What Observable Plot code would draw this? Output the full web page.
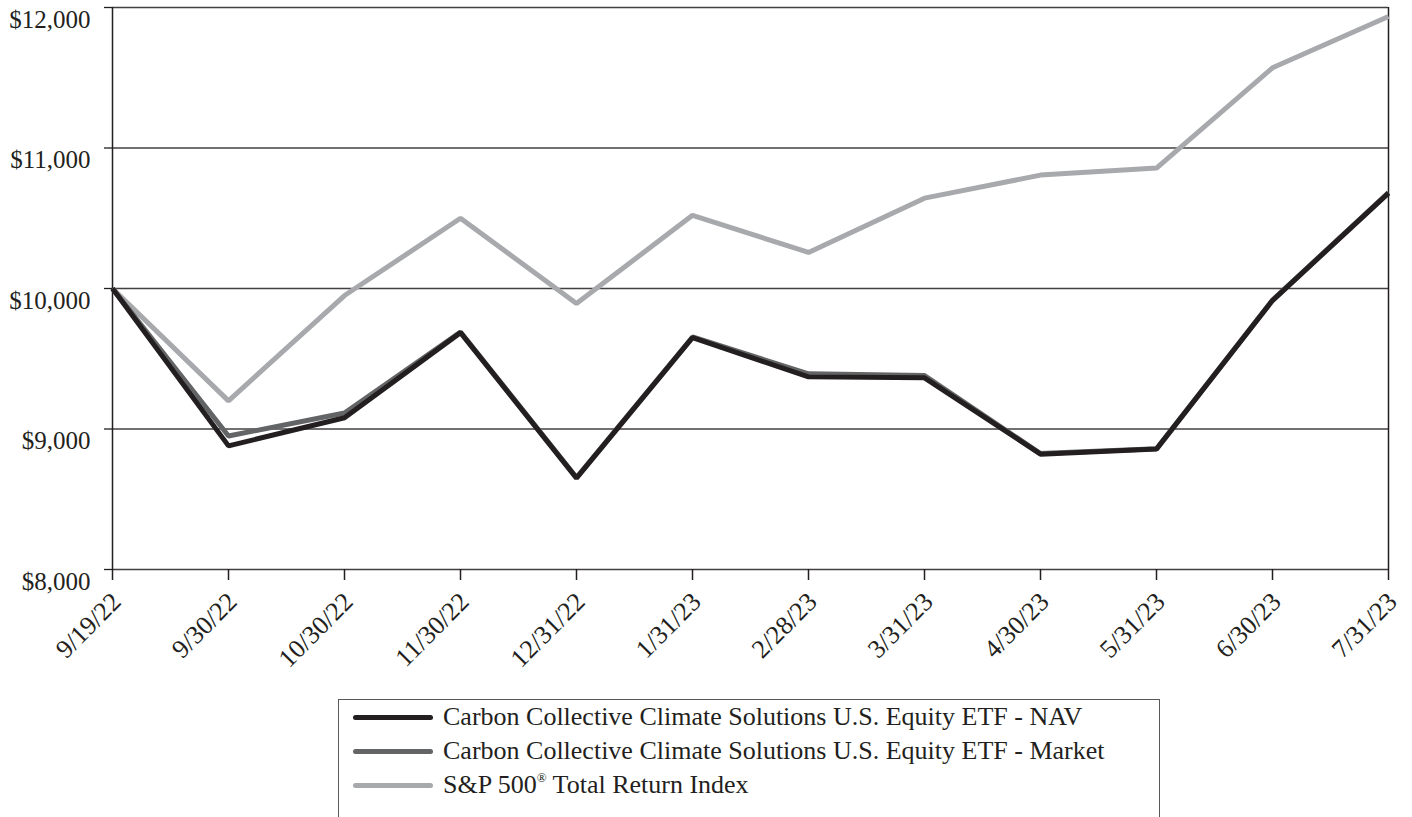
<!DOCTYPE html>
<html><head><meta charset="utf-8">
<script src="https://cdn.jsdelivr.net/npm/d3@7"></script>
<script src="https://cdn.jsdelivr.net/npm/@observablehq/plot@0.6"></script>
<style>
body{margin:0;background:#fff;font-family:"Liberation Serif",serif;}
#chart{position:absolute;left:0;top:0;}
#legend{position:absolute;left:338px;top:699px;width:822px;height:140px;border:1.3px solid #58595b;box-sizing:border-box;background:#fff;}
.item{position:absolute;left:14px;display:flex;align-items:center;font-size:26px;color:#231f20;white-space:nowrap;}
.sw{width:80px;height:5px;border-radius:3px;margin-right:10px;}
sup{font-size:13px;vertical-align:11px;}
</style></head><body>
<div id="chart"></div>
<div id="legend"></div>
<script>
const dates = ["9/19/22","9/30/22","10/30/22","11/30/22","12/31/22","1/31/23","2/28/23","3/31/23","4/30/23","5/31/23","6/30/23","7/31/23"];
const navValues    = [10000, 8880, 9080, 9686, 8650, 9650, 9371, 9364, 8821, 8857, 9914, 10679];
const marketValues = [10000, 8950, 9114, 9690, 8655, 9655, 9393, 9380, 8825, 8860, 9918, 10682];
const sp500Values  = [10000, 9200, 9950, 10500, 9893, 10521, 10257, 10643, 10807, 10857, 11571, 11936];
const yTicks = [8000, 9000, 10000, 11000, 12000];
const seriesNames = ["Carbon Collective Climate Solutions U.S. Equity ETF - NAV","Carbon Collective Climate Solutions U.S. Equity ETF - Market","S&P 500® Total Return Index"];
const seriesColors = ["#231f20", "#636466", "#a7a9ac"];

const rows = [];
[[sp500Values, seriesNames[2]], [marketValues, seriesNames[1]], [navValues, seriesNames[0]]].forEach(([vals, name]) => {
  vals.forEach((v, i) => rows.push({date: dates[i], value: v, series: name}));
});

const ink = "#231f20";
const plot = Plot.plot({
  width: 1412,
  height: 690,
  marginLeft: 112,
  marginRight: 24,
  marginTop: 7,
  marginBottom: 121,
  style: {fontFamily: '"Liberation Serif", serif', color: ink, background: "#fff"},
  x: {type: "point", domain: dates, padding: 0},
  y: {domain: [8000, 12000]},
  color: {domain: seriesNames, range: seriesColors},
  marks: [
    Plot.ruleY(yTicks, {stroke: ink, strokeWidth: 1.3, strokeOpacity: 0.85}),
    Plot.ruleX([dates[0], dates[dates.length - 1]], {stroke: ink, strokeWidth: 1.5}),
    Plot.axisY({ticks: yTicks, tickSize: 8, fill: "none", stroke: ink, strokeWidth: 1.3, label: null}),
    Plot.axisY({ticks: yTicks, tickSize: 0, tickPadding: 22, fontSize: 25, dy: 12,
      tickFormat: d => "$" + d3.format(",")(d), fill: ink, label: null}),
    Plot.axisX({tickSize: 11, fill: "none", stroke: ink, strokeWidth: 1.5, label: null}),
    Plot.axisX({tickSize: 0, tickRotate: -45, fontSize: 26, tickPadding: 14, dx: 4, dy: 14,
      fill: ink, label: null}),
    Plot.line(rows, {x: "date", y: "value", z: "series", stroke: "series", strokeWidth: 5,
      strokeLinejoin: "miter", strokeLinecap: "butt"})
  ]
});
document.getElementById("chart").appendChild(plot);

const legend = document.getElementById("legend");
seriesNames.forEach((name, i) => {
  const item = document.createElement("div");
  item.className = "item";
  item.style.top = (2 + i * 34) + "px";
  const sw = document.createElement("span");
  sw.className = "sw";
  sw.style.background = seriesColors[i];
  const label = document.createElement("span");
  if (name.includes("®")) {
    const parts = name.split("®");
    label.append(parts[0]);
    const sup = document.createElement("sup");
    sup.textContent = "®";
    label.append(sup, parts[1]);
  } else {
    label.textContent = name;
  }
  item.append(sw, label);
  legend.appendChild(item);
});
</script>
</body></html>
